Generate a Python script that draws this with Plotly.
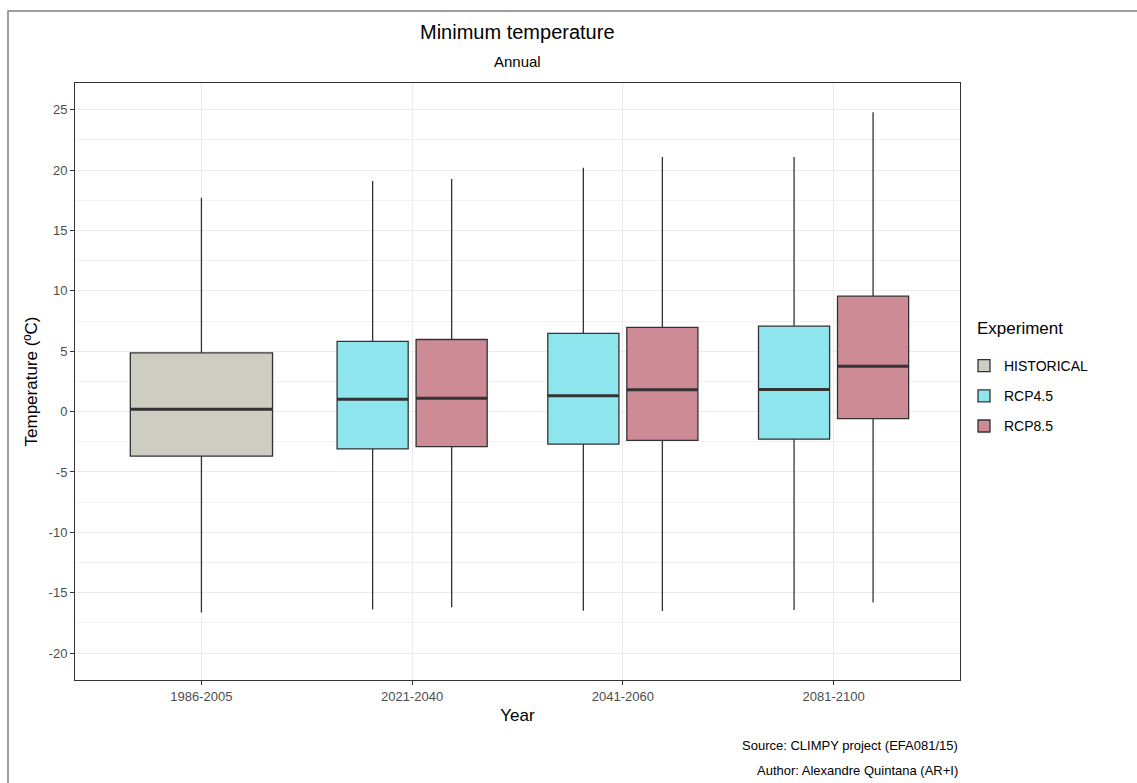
import plotly.graph_objects as go

periods = ["1986-2005", "2021-2040", "2041-2060", "2081-2100"]

hist_x = ["1986-2005"]
hist_low = [-16.65]
hist_q1 = [-3.69]
hist_med = [0.20]
hist_q3 = [4.86]
hist_high = [17.7]

rcp_x = ["2021-2040", "2041-2060", "2081-2100"]
rcp45_low = [-16.40, -16.49, -16.43]
rcp45_q1 = [-3.09, -2.70, -2.29]
rcp45_med = [1.03, 1.30, 1.83]
rcp45_q3 = [5.81, 6.47, 7.08]
rcp45_high = [19.10, 20.20, 21.08]

rcp85_low = [-16.21, -16.51, -15.82]
rcp85_q1 = [-2.91, -2.39, -0.58]
rcp85_med = [1.11, 1.80, 3.76]
rcp85_q3 = [5.97, 6.97, 9.56]
rcp85_high = [19.25, 21.08, 24.78]

yticks = [-20, -15, -10, -5, 0, 5, 10, 15, 20, 25]
yticklabels = [str(v) for v in yticks]

FONT = "Arial, Liberation Sans, sans-serif"
LINE = "#333333"

series = [
    ("HISTORICAL", hist_x, hist_low, hist_q1, hist_med, hist_q3, hist_high, "#CDCDC1", "h", "h"),
    ("RCP4.5", rcp_x, rcp45_low, rcp45_q1, rcp45_med, rcp45_q3, rcp45_high, "#8EE5EE", "r", "a"),
    ("RCP8.5", rcp_x, rcp85_low, rcp85_q1, rcp85_med, rcp85_q3, rcp85_high, "#CD8C95", "r", "b"),
]

fig = go.Figure()
for name, xs, lo, q1, med, q3, hi, color, ag, og in series:
    fig.add_trace(go.Box(
        name=name, x=xs, lowerfence=lo, q1=q1, median=med, q3=q3, upperfence=hi,
        fillcolor=color, line=dict(color=LINE, width=1.3), whiskerwidth=0,
        boxpoints=False, alignmentgroup=ag, offsetgroup=og, legendgroup=name,
        hoverinfo="skip",
    ))
# thicker median lines
for name, xs, lo, q1, med, q3, hi, color, ag, og in series:
    fig.add_trace(go.Box(
        name=name, x=xs, lowerfence=med, q1=med, median=med, q3=med, upperfence=med,
        fillcolor="rgba(0,0,0,0)", line=dict(color=LINE, width=3), whiskerwidth=0,
        boxpoints=False, alignmentgroup=ag, offsetgroup=og, legendgroup=name,
        showlegend=False, hoverinfo="skip",
    ))

fig.update_layout(
    width=1137, height=783,
    margin=dict(l=75, r=177, t=83, b=103),
    paper_bgcolor="white", plot_bgcolor="white",
    boxmode="group", boxgap=0.25, boxgroupgap=0.1,
    font=dict(family=FONT, color="#4d4d4d", size=13),
    showlegend=True,
    legend=dict(
        font=dict(size=14, color="black"),
        x=(964 - 75) / 885, xanchor="left", y=(680 - 350) / 597, yanchor="top",
        tracegroupgap=9, bgcolor="rgba(0,0,0,0)",
    ),
    xaxis=dict(
        categoryorder="array", categoryarray=periods,
        range=[-0.6, 3.6],
        showgrid=True, gridcolor="#ebebeb", gridwidth=1.2,
        showline=True, linecolor=LINE, linewidth=1, mirror=True,
        ticks="outside", ticklen=4, tickcolor=LINE, tickwidth=1,
        tickfont=dict(size=13, color="#4d4d4d"),
        title=dict(text="Year", font=dict(size=17, color="black"), standoff=6),
        zeroline=False,
    ),
    yaxis=dict(
        range=[-22.23, 27.21],
        tickvals=yticks, ticktext=yticklabels,
        showgrid=True, gridcolor="#ebebeb", gridwidth=1.2,
        minor=dict(dtick=2.5, tick0=0, showgrid=True, gridcolor="#f2f2f2", gridwidth=0.8, ticks=""),
        showline=True, linecolor=LINE, linewidth=1, mirror=True,
        ticks="outside", ticklen=4, tickcolor=LINE, tickwidth=1,
        tickfont=dict(size=13, color="#4d4d4d"),
        title=dict(text="Temperature (ºC)", font=dict(size=17, color="black"), standoff=6),
        zeroline=False,
    ),
    annotations=[
        dict(text="Minimum temperature", x=0.5, y=(680 - 32) / 597, xref="paper", yref="paper",
             showarrow=False, font=dict(size=20, color="black"), xanchor="center", yanchor="middle"),
        dict(text="Annual", x=0.5, y=(680 - 62) / 597, xref="paper", yref="paper",
             showarrow=False, font=dict(size=15, color="black"), xanchor="center", yanchor="middle"),
        dict(text="Experiment", x=(975 - 75) / 885, y=(680 - 328) / 597, xref="paper", yref="paper",
             showarrow=False, font=dict(size=17, color="black"), xanchor="left", yanchor="middle"),
        dict(text="Source: CLIMPY project (EFA081/15)", x=1.0, y=(680 - 745) / 597, xref="paper", yref="paper",
             showarrow=False, font=dict(size=13, color="black"), xanchor="right", yanchor="middle"),
        dict(text="Author: Alexandre Quintana (AR+I)", x=1.0, y=(680 - 770) / 597, xref="paper", yref="paper",
             showarrow=False, font=dict(size=13, color="black"), xanchor="right", yanchor="middle"),
    ],
    shapes=[
        dict(type="rect", xref="paper", yref="paper",
             x0=(8 - 75) / 885, x1=(1145 - 75) / 885,
             y0=(680 - 795) / 597, y1=(680 - 11) / 597,
             line=dict(color="#808080", width=1.5), fillcolor="rgba(0,0,0,0)", layer="below"),
    ],
)

fig.write_html("out.html")
